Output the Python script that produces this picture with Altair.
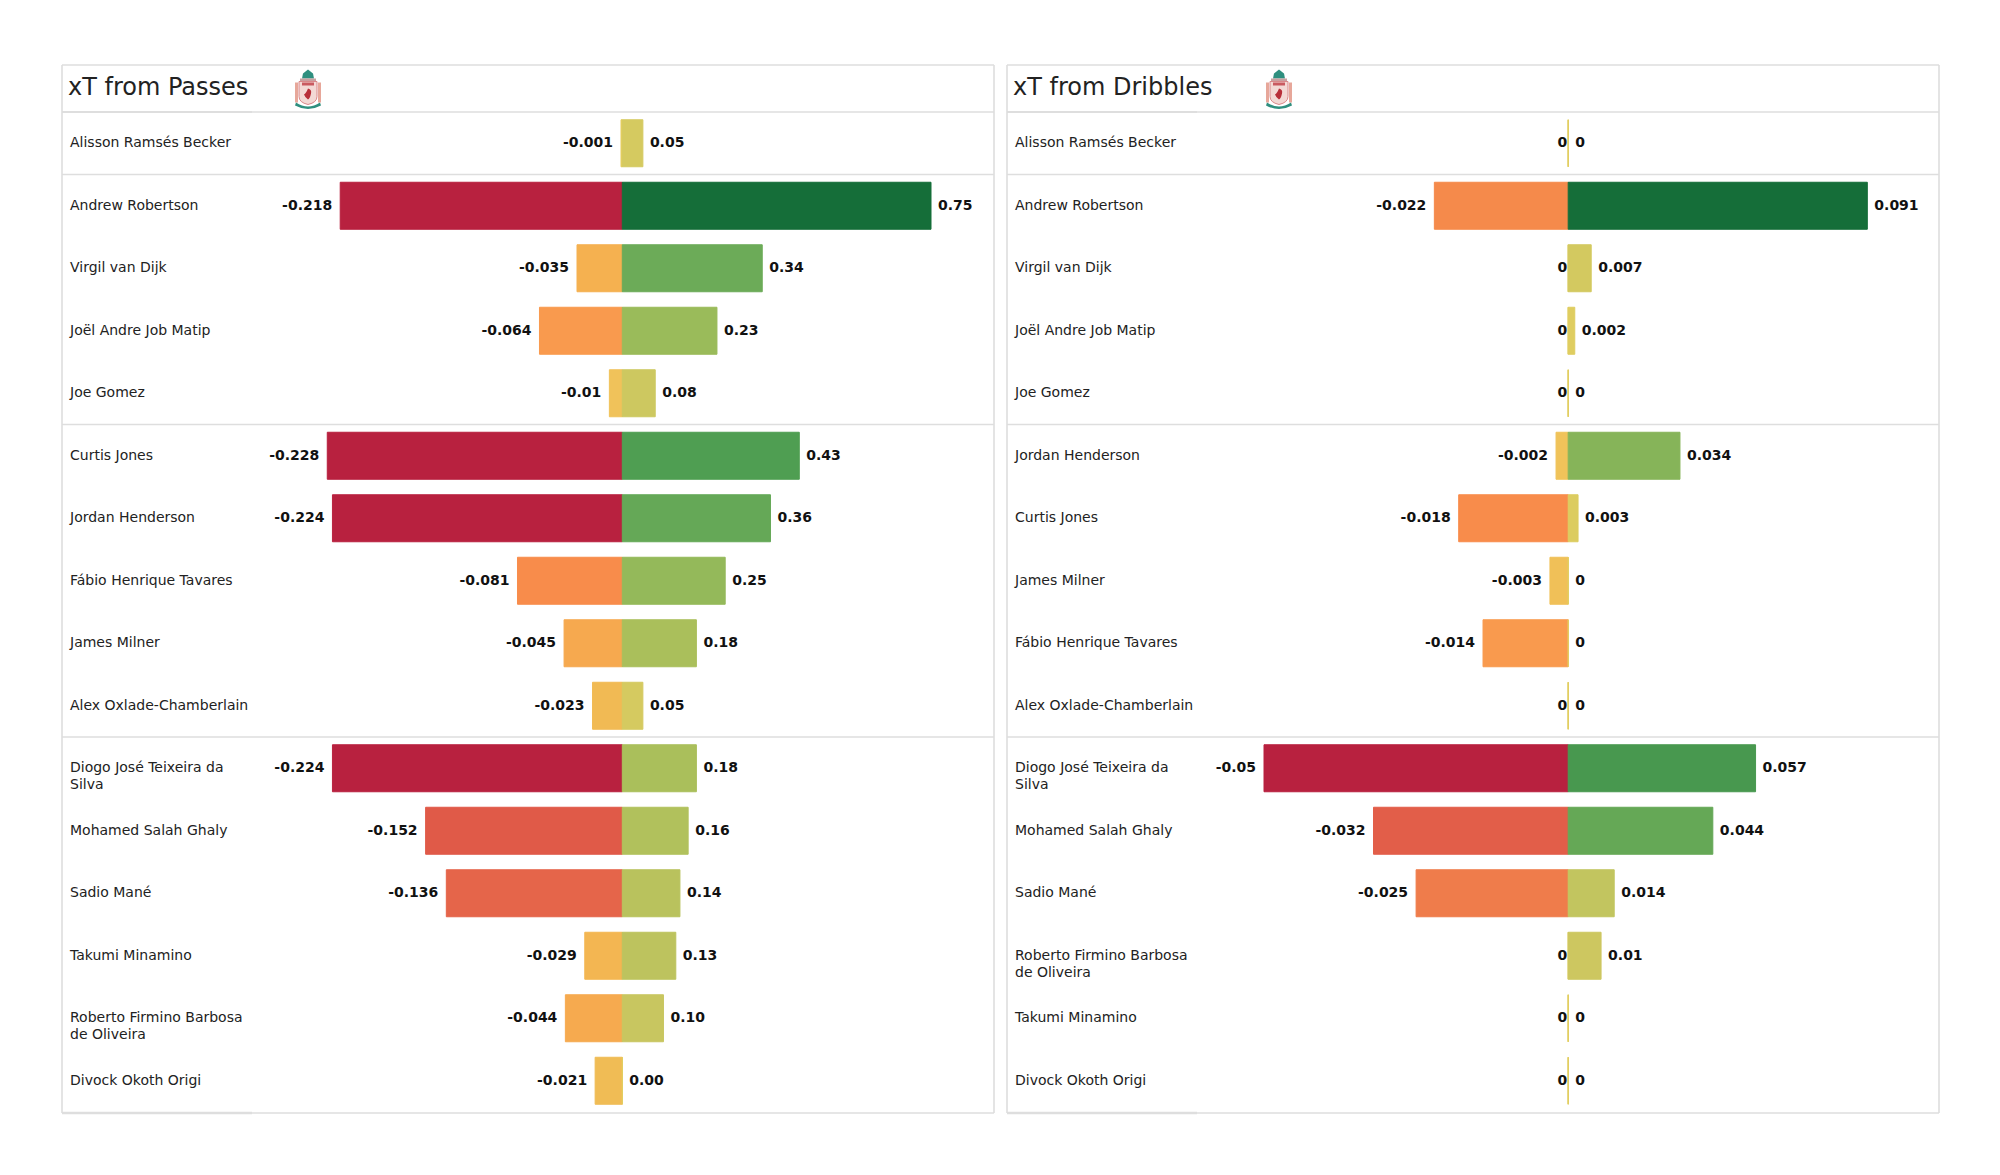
import base64
import altair as alt
import pandas as pd

FONT = "DejaVu Sans"
passes_players = ["Alisson Ramsés Becker", "Andrew Robertson", "Virgil van Dijk", "Joël Andre Job Matip", "Joe Gomez",
                  "Curtis Jones", "Jordan Henderson", "Fábio Henrique Tavares", "James Milner", "Alex Oxlade-Chamberlain",
                  "Diogo José Teixeira da\nSilva", "Mohamed  Salah Ghaly", "Sadio Mané", "Takumi Minamino",
                  "Roberto Firmino Barbosa\nde Oliveira", "Divock Okoth Origi"]
passes_neg = [-0.001, -0.218, -0.035, -0.064, -0.01, -0.228, -0.224, -0.081, -0.045, -0.023, -0.224, -0.152, -0.136, -0.029, -0.044, -0.021]
passes_pos = [0.05, 0.75, 0.34, 0.23, 0.08, 0.43, 0.36, 0.25, 0.18, 0.05, 0.18, 0.16, 0.14, 0.13, 0.10, 0.00]
passes_neg_labels = [str(v) for v in passes_neg]
passes_pos_labels = ["0.05", "0.75", "0.34", "0.23", "0.08", "0.43", "0.36", "0.25", "0.18", "0.05", "0.18", "0.16", "0.14", "0.13", "0.10", "0.00"]

dribbles_players = ["Alisson Ramsés Becker", "Andrew Robertson", "Virgil van Dijk", "Joël Andre Job Matip", "Joe Gomez",
                    "Jordan Henderson", "Curtis Jones", "James Milner", "Fábio Henrique Tavares", "Alex Oxlade-Chamberlain",
                    "Diogo José Teixeira da\nSilva", "Mohamed  Salah Ghaly", "Sadio Mané",
                    "Roberto Firmino Barbosa\nde Oliveira", "Takumi Minamino", "Divock Okoth Origi"]
dribbles_neg = [0, -0.022, 0, 0, 0, -0.002, -0.018, -0.003, -0.014, 0, -0.05, -0.032, -0.025, 0, 0, 0]
dribbles_pos = [0, 0.091, 0.007, 0.002, 0, 0.034, 0.003, 0, 0, 0, 0.057, 0.044, 0.014, 0.01, 0, 0]
dribbles_neg_labels = [str(v) for v in dribbles_neg]
dribbles_pos_labels = [str(v) for v in dribbles_pos]

color_stops = [-1, -0.95, -0.667, -0.6, -0.44, -0.355, -0.28, -0.16, -0.09, -0.04, 0, 0.133, 0.24, 0.333, 0.453, 0.573, 1]
color_range = ["#b8213f", "#b8213f", "#e05a48", "#e5644a", "#f58a4b", "#f88c4b", "#f99a4e", "#f5b050", "#f0bc55",
               "#f0c35a", "#e3ce60", "#c8c660", "#aabf5b", "#94b95a", "#6cab58", "#4f9e52", "#156e39"]

W, H, HEAD = 932, 1000, 47
STEP = H / 16
GRID = "#dedede"

crest = """<svg xmlns='http://www.w3.org/2000/svg' viewBox='0 0 30 42'>
<path d='M15 1 l5 4 l1 5 h-12 l1 -5z' fill='#2f8f7f'/>
<path d='M7 10 h16 v3 h-16z' fill='#c9a0a0'/>
<path d='M2 14 h3 v20 h-3z M25 14 h3 v20 h-3z' fill='#e7a79a'/>
<path d='M6 13 h18 v15 q0 6 -9 8 q-9 -2 -9 -8z' fill='#f3d9d5' stroke='#d9888a' stroke-width='1'/>
<path d='M9 14 h12 v3 h-12z' fill='#c95a60'/>
<path d='M15 20 q4 1 3 5 q-1 5 -3 6 q-3 -2 -4 -5 q2 -1 4 -6z' fill='#b8303a'/>
<path d='M3 34 q12 8 24 0 l1 3 q-13 7 -26 0z' fill='#2f8f7f'/>
</svg>"""
crest_uri = "data:image/svg+xml;base64," + base64.b64encode(crest.encode()).decode()


def panel(title, players, neg, pos, neg_labels, pos_labels, zero_px, neg_ppu, pos_ppu, logo_x):
    nmax, pmax = abs(min(neg)), max(pos)
    df = pd.DataFrame({
        "player": players, "neg": neg, "pos": pos,
        "neg_label": neg_labels, "pos_label": pos_labels,
        "neg_t": [v / nmax for v in neg], "pos_t": [v / pmax for v in pos],
    })
    nscale = alt.Scale(domain=[-zero_px / neg_ppu, (W - zero_px) / neg_ppu], nice=False, zero=False)
    pscale = alt.Scale(domain=[-zero_px / pos_ppu, (W - zero_px) / pos_ppu], nice=False, zero=False)
    yenc = alt.Y("player:N", sort=None, axis=None,
                 scale=alt.Scale(domain=players, paddingInner=0.248, paddingOuter=0.124))
    cscale = alt.Scale(domain=color_stops, range=color_range, interpolate="rgb")
    base = alt.Chart(df)

    def bars(field, tfield, scale):
        return base.mark_bar(orient="horizontal", strokeWidth=1).encode(
            x=alt.X(f"{field}:Q", scale=scale, axis=None, stack=None),
            y=yenc,
            fill=alt.Fill(f"{tfield}:Q", scale=cscale, legend=None),
            stroke=alt.Stroke(f"{tfield}:Q", scale=cscale, legend=None),
        )

    names = base.mark_text(align="left", baseline="middle", font=FONT, fontSize=14, color="#222222",
                           lineBreak="\n", lineHeight=17).encode(
        x=alt.value(8), y=yenc, text="player:N")
    nz = base.transform_filter("datum.neg < 0").mark_text(
        align="right", baseline="middle", dx=-8, font=FONT, fontSize=14, fontWeight="bold", color="#111111").encode(
        x=alt.X("neg:Q", scale=nscale, axis=None), y=yenc, text="neg_label:N")
    n0 = base.transform_filter("datum.neg == 0").mark_text(
        align="right", baseline="middle", dx=-1, font=FONT, fontSize=14, fontWeight="bold", color="#111111").encode(
        x=alt.X("neg:Q", scale=nscale, axis=None), y=yenc, text="neg_label:N")
    pt = base.mark_text(align="left", baseline="middle", dx=7, font=FONT, fontSize=14, fontWeight="bold",
                        color="#111111").encode(
        x=alt.X("pos:Q", scale=pscale, axis=None), y=yenc, text="pos_label:N")

    one = alt.Chart(pd.DataFrame({"a": [0]}))
    def hrule(y, x2=W, width=1.6, color=GRID):
        return one.mark_rule(color=color, strokeWidth=width).encode(
            x=alt.value(0), x2=alt.value(x2), y=alt.value(y))
    def vrule(x):
        return one.mark_rule(color=GRID, strokeWidth=1.6).encode(
            x=alt.value(x), y=alt.value(-HEAD), y2=alt.value(H + 1))

    rules = [hrule(-HEAD), hrule(0), hrule(STEP * 1), hrule(STEP * 5), hrule(STEP * 10), hrule(H + 1),
             hrule(H + 1, x2=190, width=2.6), hrule(0, x2=190, width=2), vrule(0), vrule(W)]
    head = one.mark_text(align="left", baseline="middle", font=FONT, fontSize=24, color="#222222").encode(
        x=alt.value(6), y=alt.value(-HEAD / 2 - 1), text=alt.value(title))
    logo = one.mark_image(width=30, height=42).encode(
        x=alt.value(logo_x), y=alt.value(-HEAD / 2 + 1), url=alt.value(crest_uri))

    return alt.layer(*rules, bars("neg", "neg_t", nscale), bars("pos", "pos_t", pscale),
                     names, nz, n0, pt, head, logo).resolve_scale(x="independent", fill="shared", stroke="shared").properties(width=W, height=H)


left = panel("xT from Passes", passes_players, passes_neg, passes_pos, passes_neg_labels, passes_pos_labels,
             560.3, 1294, 411.6, 246)
right = panel("xT from Dribbles", dribbles_players, dribbles_neg, dribbles_pos, dribbles_neg_labels, dribbles_pos_labels,
              561.2, 6084, 3287, 272)

chart = alt.hconcat(left, right, spacing=10).properties(
    padding={"left": 52, "top": 56, "right": 5, "bottom": 5}, background="white"
).configure_view(stroke=None)
chart.save("out.html", embed_options={"renderer": "svg", "actions": False})
